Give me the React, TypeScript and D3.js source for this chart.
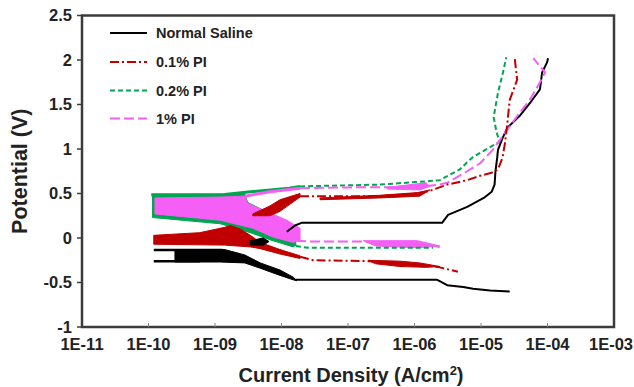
import React from 'react';
import * as d3 from 'd3';

type P = [number, number];

// ---------- axis ticks ----------
const xTicks = [1e-11, 1e-10, 1e-9, 1e-8, 1e-7, 1e-6, 1e-5, 1e-4, 1e-3];
const xTickLabels = ['1E-11', '1E-10', '1E-09', '1E-08', '1E-07', '1E-06', '1E-05', '1E-04', '1E-03'];
const yTicks = [-1, -0.5, 0, 0.5, 1, 1.5, 2, 2.5];
const yTickLabels = ['-1', '-0.5', '0', '0.5', '1', '1.5', '2', '2.5'];

const seriesNames = ['Normal Saline', '0.1% PI', '0.2% PI', '1% PI'];

// ---------- Normal Saline (current density A/cm2, potential V) ----------
const salineNoise: P[] = [[2.5e-10, -0.13], [1.4e-9, -0.13], [2.8e-9, -0.19], [4.8e-9, -0.28], [9.5e-9, -0.36], [1.5e-8, -0.44], [1.7e-8, -0.48], [1.5e-8, -0.47], [9.5e-9, -0.42], [4.8e-9, -0.34], [2.8e-9, -0.28], [1.2e-9, -0.27], [2.5e-10, -0.27]];
const salineStreakA: P[] = [[1.2e-10, -0.135], [1.3e-9, -0.135]];
const salineStreakB: P[] = [[1.2e-10, -0.26], [5.9e-10, -0.26]];
const salineBlob: P[] = [[3.4e-9, -0.03], [5.3e-9, 0.0], [6.5e-9, -0.04], [5.3e-9, -0.08], [3.4e-9, -0.08]];
const salineAnodic: P[] = [[1.2e-8, 0.07], [1.6e-8, 0.14], [2.0e-8, 0.17], [2.6e-6, 0.17], [3.2e-6, 0.26], [6.2e-6, 0.35], [1.1e-5, 0.45], [1.45e-5, 0.52], [1.6e-5, 0.6], [1.65e-5, 0.75], [1.75e-5, 0.9], [1.8e-5, 0.99], [2.1e-5, 1.12], [2.5e-5, 1.24], [3.9e-5, 1.38], [5.5e-5, 1.52], [7.7e-5, 1.67], [8.3e-5, 1.86], [9.8e-5, 1.97], [1.02e-4, 2.02]];
const salineCathodic: P[] = [[1.6e-8, -0.47], [2.2e-6, -0.47], [3.1e-6, -0.53], [5.4e-6, -0.55], [7.6e-6, -0.57], [1.37e-5, -0.59], [2.7e-5, -0.6]];

// ---------- 0.1% PI ----------
const redNoise: P[] = [[1.2e-10, 0.03], [5.9e-10, 0.06], [1.4e-9, 0.12], [1.7e-9, 0.14], [2.4e-9, 0.10], [3.4e-9, 0.03], [4.8e-9, -0.05], [9.5e-9, -0.13], [1.9e-8, -0.2], [1.9e-8, -0.23], [9.5e-9, -0.18], [4.8e-9, -0.12], [3.4e-9, -0.10], [1.4e-9, -0.08], [1.2e-10, -0.07]];
const redAnodicBlob: P[] = [[3.7e-9, 0.27], [6.7e-9, 0.36], [9.5e-9, 0.43], [1.9e-8, 0.5], [1.9e-8, 0.46], [9.5e-9, 0.30], [6.7e-9, 0.25], [3.7e-9, 0.25]];
const redAnodicBand: P[] = [[3.8e-8, 0.45], [3e-7, 0.48], [1.1e-6, 0.51], [1.7e-6, 0.54], [1.2e-6, 0.47], [3e-7, 0.45], [3.8e-8, 0.43]];
const redAnodic: P[] = [[1.9e-8, 0.47], [3.0e-7, 0.47], [1.2e-6, 0.5], [1.7e-6, 0.53], [3.1e-6, 0.6], [6.2e-6, 0.65], [9.7e-6, 0.7], [1.4e-5, 0.73], [1.8e-5, 0.77], [2.1e-5, 0.9], [2.3e-5, 1.07], [2.5e-5, 1.3], [2.7e-5, 1.55], [3.5e-5, 1.78], [3.2e-5, 2.03]];
const redCathodicBand: P[] = [[2.0e-7, -0.25], [6e-7, -0.26], [1.2e-6, -0.28], [2.4e-6, -0.32], [1.5e-6, -0.33], [6e-7, -0.32], [2.6e-7, -0.29]];
const redCathodic: P[] = [[1.9e-8, -0.21], [3.0e-8, -0.25], [2.0e-7, -0.26], [6e-7, -0.28], [1.2e-6, -0.3], [2.4e-6, -0.33], [4.5e-6, -0.38]];

// ---------- 0.2% PI ----------
const greenNoise: P[] = [[1.15e-10, 0.49], [1.4e-9, 0.49], [2.8e-9, 0.5], [3.1e-9, 0.40], [1.2e-8, 0.18], [1.6e-8, 0.02], [1.65e-8, -0.08], [1.5e-8, -0.10], [6.7e-9, -0.02], [3.4e-9, 0.06], [1.2e-9, 0.16], [1.15e-10, 0.23]];
const greenStreak: P[] = [[1.1e-10, 0.485], [1.4e-9, 0.49], [3.4e-9, 0.52], [1.3e-8, 0.56], [1.9e-8, 0.58]];
const greenAnodic: P[] = [[1.9e-8, 0.58], [3e-7, 0.6], [1.7e-6, 0.64], [2.4e-6, 0.65], [4.8e-6, 0.77], [6.8e-6, 0.88], [7.6e-6, 0.91], [1.37e-5, 1.02], [1.9e-5, 1.08], [1.7e-5, 1.2], [1.55e-5, 1.36], [1.8e-5, 1.63], [2.14e-5, 1.86], [2.4e-5, 2.03]];
const greenCathodic: P[] = [[1.65e-8, -0.09], [2.5e-8, -0.11], [1.9e-6, -0.11]];

// ---------- 1% PI ----------
const pinkNoise: P[] = [[1.25e-10, 0.45], [1.2e-9, 0.46], [2.8e-9, 0.47], [3.1e-9, 0.39], [1.2e-8, 0.20], [1.9e-8, 0.11], [1.9e-8, -0.02], [1.5e-8, -0.05], [7.5e-9, 0.01], [3.7e-9, 0.11], [1.2e-9, 0.2], [1.25e-10, 0.27]];
const pinkStreak: P[] = [[2.8e-9, 0.47], [6.7e-9, 0.52], [1.9e-8, 0.56]];
const pinkUpperBand: P[] = [[3.9e-7, 0.57], [1.5e-6, 0.62], [1.7e-6, 0.58], [1.2e-6, 0.54], [3.9e-7, 0.55]];
const pinkLowerBand: P[] = [[1.7e-7, -0.03], [1.1e-6, -0.03], [2.4e-6, -0.09], [1.1e-6, -0.11], [2.6e-7, -0.09]];
const pinkAnodic: P[] = [[1.9e-8, 0.56], [1.5e-7, 0.57], [1.1e-6, 0.57], [2.4e-6, 0.6], [3.1e-6, 0.62], [6.2e-6, 0.75], [9.7e-6, 0.84], [1.5e-5, 0.99], [2.1e-5, 1.14], [3.5e-5, 1.37], [5.5e-5, 1.56], [7.7e-5, 1.75], [9.2e-5, 1.86], [7.7e-5, 1.93], [6.1e-5, 2.02]];
const pinkCathodic: P[] = [[1.65e-8, -0.03], [3e-8, -0.04], [1.7e-7, -0.04], [1.1e-6, -0.06], [2.4e-6, -0.1]];

// ---------- styles ----------
const W = 634, H = 387;
const M = { left: 82, right: 614, top: 15.5, bottom: 327 };
const C_BLACK = '#000000';
const C_RED = '#c00000';
const C_GREEN = '#00a650';
const C_PINK = '#f55ff5';
const DASH_RED = '9,3,2,3';
const DASH_GREEN = '5,3';
const DASH_PINK = '10,4';
const FONT = "'Liberation Sans', Arial, sans-serif";
const TEXT = '#222';

export default function App() {
  const x = d3.scaleLog().domain([1e-11, 1e-3]).range([M.left, M.right]);
  const y = d3.scaleLinear().domain([-1, 2.5]).range([M.bottom, M.top]);
  const line = d3.line<P>().x(d => x(d[0])).y(d => y(d[1]));
  const poly = (pts: P[]) => (line(pts) || '') + 'Z';

  const band = (pts: P[], color: string, key: string) => (
    <path key={key} d={poly(pts)} fill={color} stroke={color} strokeWidth={1} strokeLinejoin="round" />
  );
  const path = (pts: P[], color: string, dash: string | undefined, key: string, w = 2) => (
    <path key={key} d={line(pts) || ''} fill="none" stroke={color} strokeWidth={w} strokeDasharray={dash} strokeLinejoin="round" />
  );

  const legend = [
    { name: seriesNames[0], color: C_BLACK, dash: undefined },
    { name: seriesNames[1], color: C_RED, dash: DASH_RED },
    { name: seriesNames[2], color: C_GREEN, dash: DASH_GREEN },
    { name: seriesNames[3], color: C_PINK, dash: DASH_PINK },
  ];
  const legendY = [33, 62, 90.5, 118.5];
  const lastTick = xTicks.length - 1;

  return (
    <svg width={W} height={H} style={{ position: 'absolute', left: 0, top: 0, background: '#fff' }} fontFamily={FONT}>
      <rect x={0} y={0} width={W} height={H} fill="#fff" />
      {/* bands */}
      {band(greenNoise, C_GREEN, 'gn')}
      {band(pinkNoise, C_PINK, 'pn')}
      {band(pinkUpperBand, C_PINK, 'pub')}
      {band(pinkLowerBand, C_PINK, 'plb')}
      {band(redNoise, C_RED, 'rn')}
      {band(redAnodicBlob, C_RED, 'rab')}
      {band(redAnodicBand, C_RED, 'rabd')}
      {band(redCathodicBand, C_RED, 'rcb')}
      {band(salineNoise, C_BLACK, 'sn')}
      {band(salineBlob, C_BLACK, 'sb')}
      {/* lines */}
      {path(salineStreakA, C_BLACK, undefined, 'ssa', 2.5)}
      {path(salineStreakB, C_BLACK, undefined, 'ssb', 2.5)}
      {path(salineAnodic, C_BLACK, undefined, 'sa')}
      {path(salineCathodic, C_BLACK, undefined, 'sc')}
      {path(greenStreak, C_GREEN, undefined, 'gs', 3)}
      {path(greenAnodic, C_GREEN, DASH_GREEN, 'ga')}
      {path(greenCathodic, C_GREEN, DASH_GREEN, 'gc')}
      {path(pinkStreak, C_PINK, undefined, 'ps', 3)}
      {path(pinkAnodic, C_PINK, DASH_PINK, 'pa')}
      {path(pinkCathodic, C_PINK, DASH_PINK, 'pc')}
      {path(redAnodic, C_RED, DASH_RED, 'ra')}
      {path(redCathodic, C_RED, DASH_RED, 'rc')}

      {/* frame */}
      <rect x={M.left} y={M.top} width={M.right - M.left} height={M.bottom - M.top} fill="none" stroke="#3c3c3c" strokeWidth={2.5} />

      {/* x ticks */}
      {xTicks.map((t, i) => (
        <g key={'xt' + i}>
          {i > 0 && i < lastTick && (
            <line x1={x(t)} x2={x(t)} y1={M.bottom} y2={M.bottom - 4} stroke="#888" strokeWidth={1} />
          )}
          <text
            x={i === lastTick ? W - 1 : x(t)}
            y={350}
            textAnchor={i === lastTick ? 'end' : 'middle'}
            fontSize={16.5}
            fontWeight="bold"
            fill={TEXT}
          >{xTickLabels[i]}</text>
        </g>
      ))}
      {/* y ticks */}
      {yTicks.map((t, i) => (
        <g key={'yt' + i}>
          <line x1={M.left - 5} x2={M.left} y1={y(t)} y2={y(t)} stroke="#3c3c3c" strokeWidth={1.5} />
          <text x={72} y={y(t)} dy="0.36em" textAnchor="end" fontSize={16.5} fontWeight="bold" fill={TEXT}>{yTickLabels[i]}</text>
        </g>
      ))}

      {/* axis titles */}
      <text transform={`translate(27,${(M.top + M.bottom) / 2}) rotate(-90)`} textAnchor="middle" fontSize={21.5} fontWeight="bold" fill={TEXT}>Potential (V)</text>
      <text x={(M.left + M.right) / 2 + 3} y={382} textAnchor="middle" fontSize={20} fontWeight="bold" fill={TEXT}>
        Current Density (A/cm<tspan dy={-7} fontSize={13}>2</tspan><tspan dy={7}>)</tspan>
      </text>

      {/* legend */}
      {legend.map((l, i) => (
        <g key={'lg' + i}>
          <line x1={110} x2={147} y1={legendY[i]} y2={legendY[i]} stroke={l.color} strokeWidth={2} strokeDasharray={l.dash} />
          <text x={156} y={legendY[i]} dy="0.36em" fontSize={14.5} fontWeight="bold" fill={TEXT}>{l.name}</text>
        </g>
      ))}
    </svg>
  );
}
